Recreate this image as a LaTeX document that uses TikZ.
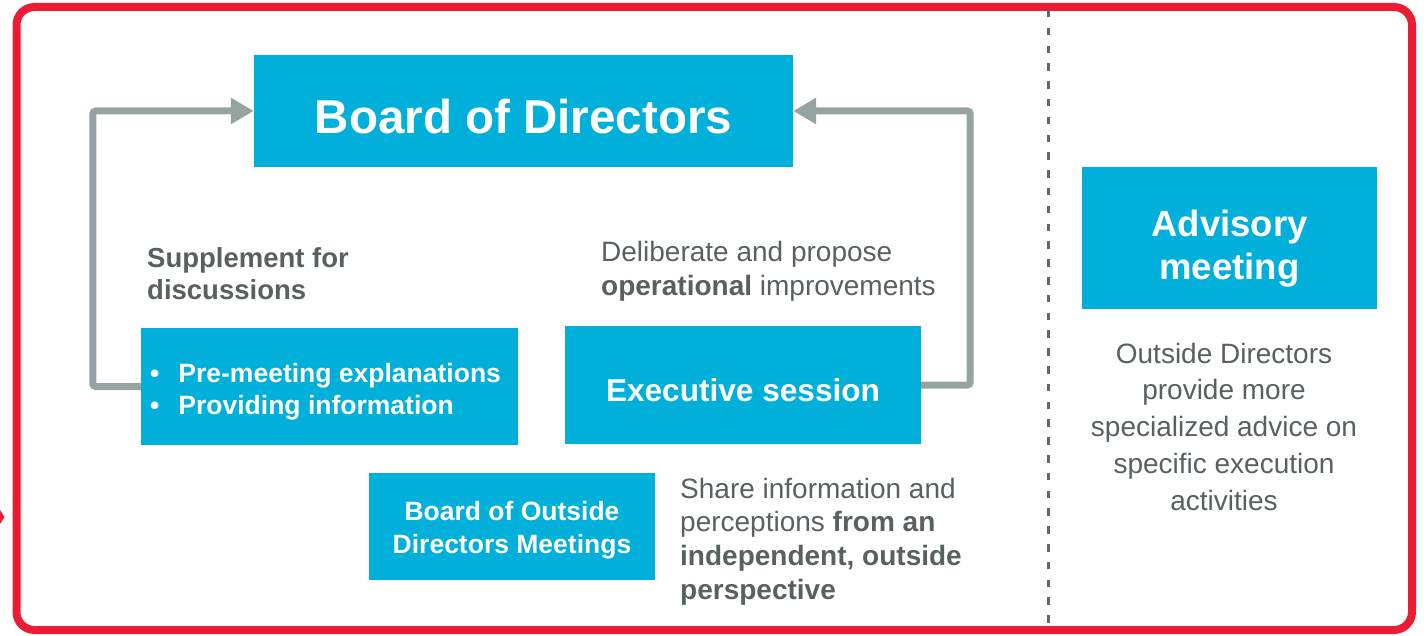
\documentclass[tikz,border=0pt]{standalone}
\usepackage{fontspec}
\setmainfont{Liberation Sans}
\usetikzlibrary{arrows.meta}
\definecolor{boxblue}{RGB}{0,176,219}
\definecolor{arrgray}{RGB}{149,163,163}
\definecolor{txtgray}{RGB}{89,96,96}
\definecolor{bred}{RGB}{237,28,53}
\definecolor{dashgray}{RGB}{95,105,105}
\begin{document}
\begin{tikzpicture}[x=1pt,y=-1pt,
  bluebox/.style={fill=boxblue, text=white, inner sep=0pt, align=center},
  garrow/.style={draw=arrgray, line width=7pt, rounded corners=3pt, -{Triangle[length=23pt,width=25pt]}},
  desc/.style={text=txtgray, inner sep=0pt}]
\useasboundingbox (0,0) rectangle (1426,636);
% frame
\draw[bred, line width=8pt, rounded corners=18pt] (16.5,7) rectangle (1412,630);
\fill[bred] (0,510) -- (4.5,517) -- (0,524) -- cycle;
% divider
\draw[dashgray, line width=3pt, dash pattern=on 7.5pt off 10.3pt] (1048,10) -- (1048,630);
% boxes
\node[bluebox, minimum width=539pt, minimum height=112pt, text height=46pt, text depth=0pt,
  font=\bfseries\fontsize{47.5}{57}\selectfont] (board) at (523.5,111) {Board of Directors};
\node[bluebox, minimum width=377pt, minimum height=117pt] (pre) at (329.5,386.5) {};
\node[anchor=west, inner sep=0pt, text=white, font=\bfseries\fontsize{26.5}{32.5}\selectfont] (prelist) at (150,392)
  {\begin{tabular}{@{}l@{\hspace{19pt}}l@{}}\textbullet & Pre-meeting explanations\\ \textbullet & Providing information\end{tabular}};
\node[bluebox, minimum width=356pt, minimum height=118pt, text height=32pt, text depth=0pt,
  font=\bfseries\fontsize{31.6}{38}\selectfont] (exec) at (743,385) {Executive session};
\node[bluebox, minimum width=286pt, minimum height=107pt, font=\bfseries\fontsize{26.5}{33}\selectfont] (bodm) at (512,526.5)
  {\begin{tabular}{@{}c@{}}\rule{0pt}{29.9pt}Board of Outside\\Directors Meetings\end{tabular}};
\node[bluebox, minimum width=295pt, minimum height=142pt, font=\bfseries\fontsize{36.5}{44}\selectfont] (adv) at (1229.5,238)
  {\begin{tabular}{@{}c@{}}\rule{0pt}{53.2pt}Advisory\\meeting\end{tabular}};
% texts
\node[desc, anchor=north west, font=\bfseries\fontsize{27.5}{32.5}\selectfont] (supp) at (147,244.25)
  {\begin{tabular}{@{}l@{}}Supplement for\\discussions\end{tabular}};
\node[desc, anchor=north west, font=\fontsize{28}{34}\selectfont] (delib) at (601,237.2)
  {\begin{tabular}{@{}l@{}}Deliberate and propose\\\textbf{operational} improvements\end{tabular}};
\node[desc, anchor=north west, font=\fontsize{28}{33.7}\selectfont] (share) at (680,474.4)
  {\begin{tabular}{@{}l@{}}Share information and\\perceptions \textbf{from an}\\\textbf{independent, outside}\\\textbf{perspective}\end{tabular}};
\node[desc, anchor=north, font=\fontsize{28}{36.75}\selectfont] (outs) at (1224,337.3)
  {\begin{tabular}{@{}c@{}}Outside Directors\\provide more\\specialized advice on\\specific execution\\activities\end{tabular}};
% connectors
\draw[garrow] (pre.west) -- ++(-48,0) |- (board.west);
\draw[garrow] (exec.east) -- ++(49,0) |- (board.east);
\end{tikzpicture}
\end{document}
